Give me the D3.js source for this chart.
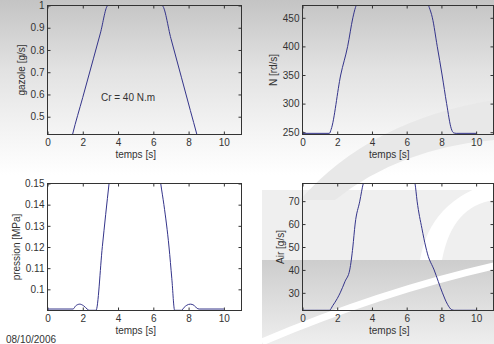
<!DOCTYPE html>
<html lang="fr">
<head>
<meta charset="UTF-8">
<title>Cr = 40 N.m</title>
<style>
  body { margin: 0; background: #fff; }
  svg { display: block; font-family: "Liberation Sans", Arial, sans-serif; }
  .tick text { fill: #333; font-size: 10px; }
  .tick line { stroke: #333; }
  .domain { display: none; }
  .lab { fill: #333; font-size: 10px; }
</style>
</head>
<body>
<script src="https://cdn.jsdelivr.net/npm/d3@7/dist/d3.min.js"></script>
<script>
// temps [s] and values
var xTicks = [0, 2, 4, 6, 8, 10];

var tGazole = [0, 1.3, 1.42, 2.0, 2.6, 3.0, 3.43, 3.6, 6.35, 6.49, 7.0, 7.6, 8.1, 8.47, 8.6, 10];
var gazole  = [0.38, 0.38, 0.42, 0.587, 0.76, 0.876, 1.0, 1.0, 1.0, 1.0, 0.851, 0.675, 0.528, 0.42, 0.38, 0.38];
var gazoleTicks = [0.5, 0.6, 0.7, 0.8, 0.9, 1];

var tN = [0, 1.55, 1.65, 2.2, 2.6, 2.9, 3.05, 3.15, 7.2, 7.3, 7.48, 7.76, 8.04, 8.3, 8.57, 8.7, 8.85, 10];
var N  = [248, 248, 255, 350, 400, 450, 468, 475, 475, 468, 450, 400, 350, 300, 256, 249, 248, 248];
var NTicks = [250, 300, 350, 400, 450];

var tP = [0, 1.45, 1.6, 1.83, 2.05, 2.25, 2.35, 2.75, 3.11, 3.49, 3.6, 6.3, 6.42, 6.6, 6.89, 7.05, 7.21, 7.6, 7.75, 7.9, 8.1, 8.3, 8.45, 8.6, 10];
var P  = [0.0907, 0.0907, 0.0922, 0.093, 0.0922, 0.0907, 0.0901, 0.0901, 0.1202, 0.15, 0.158, 0.158, 0.15, 0.14, 0.12, 0.105, 0.0901, 0.0901, 0.0915, 0.0925, 0.093, 0.0925, 0.0912, 0.0907, 0.0907];
var PTicks = [0.1, 0.11, 0.12, 0.13, 0.14, 0.15];

var tAir = [0, 1.55, 1.75, 2.0, 2.17, 2.45, 2.72, 2.9, 3.03, 3.3, 3.5, 3.6, 6.4, 6.48, 6.6, 6.88, 7.1, 7.2, 7.58, 8.06, 8.35, 8.6, 8.75, 10];
var air  = [22.4, 22.4, 24.5, 27.5, 30, 35, 40, 50, 60, 70, 77.7, 80, 80, 77.7, 70, 58, 50, 47, 40, 30, 25, 22.6, 22.4, 22.4];
var airTicks = [30, 40, 50, 60, 70];

var W = 494, H = 344;
var svg = d3.select("body").append("svg").attr("width", W).attr("height", H);
var defs = svg.append("defs");

// slide background
var g1 = defs.append("linearGradient").attr("id", "topgrad").attr("x1", 0).attr("y1", 0).attr("x2", 0).attr("y2", 1);
g1.append("stop").attr("offset", 0).attr("stop-color", "#c4c4c4");
g1.append("stop").attr("offset", 0.4).attr("stop-color", "#e2e2e2");
g1.append("stop").attr("offset", 0.75).attr("stop-color", "#f4f4f4");
g1.append("stop").attr("offset", 1).attr("stop-color", "#ffffff");
var g2 = defs.append("linearGradient").attr("id", "botgrad").attr("x1", 0).attr("y1", 0).attr("x2", 0).attr("y2", 1);
g2.append("stop").attr("offset", 0).attr("stop-color", "#cdcdcd");
g2.append("stop").attr("offset", 1).attr("stop-color", "#eeeeee");

var bg = svg.append("g");
bg.append("rect").attr("width", W).attr("height", 175).attr("fill", "url(#topgrad)");
bg.append("rect").attr("x", 262).attr("y", 190).attr("width", W - 262).attr("height", 70).attr("fill", "#efefef");
bg.append("path").attr("d", "M300,200 Q370,120 494,100 L494,140 Q400,148 335,200 Z").attr("fill", "#e8e8e8");
bg.append("rect").attr("x", 262).attr("y", 260).attr("width", W - 262).attr("height", H - 260).attr("fill", "url(#botgrad)");
bg.append("path").attr("d", "M420,260 Q430,200 494,182 L494,200 Q452,206 442,260 Z").attr("fill", "#ffffff");
bg.append("path").attr("d", "M262,342 Q380,292 494,266").attr("fill", "none").attr("stroke", "#ffffff").attr("stroke-width", 7);

var fmt = function (d) { return String(d); };

function panel(o) {
  var x = d3.scaleLinear().domain([0, 11]).range(o.xr);
  var y = d3.scaleLinear().domain(o.yd).range(o.yr);
  var g = svg.append("g");
  var id = "clip" + o.id;
  defs.append("clipPath").attr("id", id).append("rect")
    .attr("x", o.xr[0]).attr("y", o.yr[1])
    .attr("width", o.xr[1] - o.xr[0]).attr("height", o.yr[0] - o.yr[1]);

  g.append("g").attr("transform", "translate(0," + o.yr[0] + ")")
    .call(d3.axisBottom(x).tickValues(xTicks).tickSize(-3).tickPadding(4.5));
  g.append("g").attr("transform", "translate(0," + o.yr[1] + ")")
    .call(d3.axisTop(x).tickValues(xTicks).tickSize(-3).tickFormat(""));
  g.append("g").attr("transform", "translate(" + o.xr[0] + ",0)")
    .call(d3.axisLeft(y).tickValues(o.ticks).tickSize(-3).tickPadding(3).tickFormat(fmt));
  g.append("g").attr("transform", "translate(" + o.xr[1] + ",0)")
    .call(d3.axisRight(y).tickValues(o.ticks).tickSize(-3).tickFormat(""));

  var line = d3.line().x(function (d) { return x(d[0]); }).y(function (d) { return y(d[1]); })
    .curve(d3.curveMonotoneX);
  g.append("path").datum(d3.zip(o.t, o.v))
    .attr("clip-path", "url(#" + id + ")")
    .attr("d", line).attr("fill", "none").attr("stroke", "#34348a").attr("stroke-width", 1);

  g.append("rect").attr("x", o.xr[0]).attr("y", o.yr[1])
    .attr("width", o.xr[1] - o.xr[0]).attr("height", o.yr[0] - o.yr[1])
    .attr("fill", "none").attr("stroke", "#333");

  g.append("text").attr("class", "lab").attr("text-anchor", "middle")
    .attr("x", (x(0) + x(10)) / 2).attr("y", o.yr[0] + 20).attr("dy", "0.35em").text("temps [s]");
  g.append("text").attr("class", "lab").attr("text-anchor", "middle")
    .attr("transform", "translate(" + o.ylx + "," + (o.yr[0] + o.yr[1]) / 2 + ") rotate(-90)")
    .attr("dy", "0.35em").text(o.ylabel);
  return { x: x, y: y, g: g };
}

var p1 = panel({ id: 1, xr: [47.5, 241.5], yr: [134.5, 5.5], yd: [0.42, 1], t: tGazole, v: gazole, ticks: gazoleTicks, ylabel: "gazole [g/s]", ylx: 21 });
panel({ id: 2, xr: [302.5, 493.5], yr: [134.5, 5.5], yd: [246, 471.5], t: tN, v: N, ticks: NTicks, ylabel: "N [rd/s]", ylx: 273 });
panel({ id: 3, xr: [47.5, 241.5], yr: [310.5, 183.5], yd: [0.09, 0.15], t: tP, v: P, ticks: PTicks, ylabel: "pression [MPa]", ylx: 16 });
panel({ id: 4, xr: [302.5, 493.5], yr: [310.5, 183.5], yd: [22.3, 77.7], t: tAir, v: air, ticks: airTicks, ylabel: "Air [g/s]", ylx: 280 });

p1.g.append("text").attr("class", "lab").attr("text-anchor", "middle")
  .attr("x", 128).attr("y", 97).attr("dy", "0.35em").text("Cr = 40 N.m");

svg.append("text").attr("class", "lab").attr("x", 6).attr("y", 343).text("08/10/2006");
</script>
</body>
</html>
